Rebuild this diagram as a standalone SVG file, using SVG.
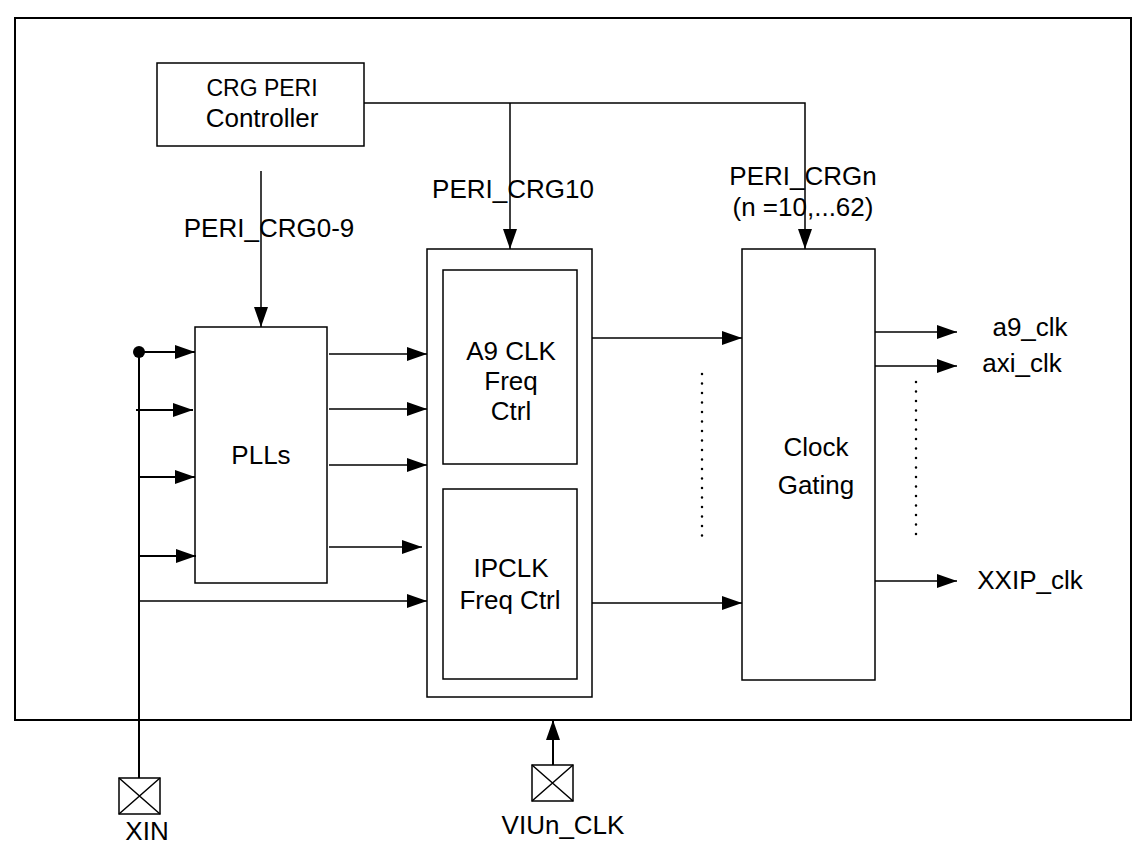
<svg xmlns="http://www.w3.org/2000/svg" width="1146" height="849" viewBox="0 0 1146 849">
<style>
.box{fill:#fff;stroke:#000;stroke-width:1.5}
.frame{fill:#fff;stroke:#000;stroke-width:2}
.ln{fill:none;stroke:#000;stroke-width:1.5}
.t{font-family:"Liberation Sans",Arial,sans-serif;font-size:26px;fill:#000;text-anchor:middle}
.dot{fill:none;stroke:#000;stroke-width:2.5;stroke-dasharray:0 9.5;stroke-linecap:round}
</style>
<defs>
<marker id="ah" markerWidth="20" markerHeight="14" refX="20" refY="7" orient="auto" markerUnits="userSpaceOnUse">
<path d="M0,0 L20,7 L0,14 Z" fill="#000"/>
</marker>
</defs>
<rect class="frame" x="15" y="18" width="1116" height="702"/>
<g id="controller">
<rect class="box" x="157" y="63" width="207" height="83"/>
<text class="t" x="262" y="96" style="font-size:23px">CRG PERI</text>
<text class="t" x="262" y="127">Controller</text>
</g>
<g id="plls">
<rect class="box" x="195" y="327" width="132" height="256"/>
<text class="t" x="261" y="464">PLLs</text>
</g>
<g id="freqctrl">
<rect class="box" x="427" y="249" width="165" height="448"/>
<rect class="box" x="443" y="270" width="134" height="194"/>
<text class="t" x="511" y="360">A9 CLK</text>
<text class="t" x="511" y="390">Freq</text>
<text class="t" x="511" y="420">Ctrl</text>
<rect class="box" x="443" y="489" width="134" height="190"/>
<text class="t" x="511" y="577">IPCLK</text>
<text class="t" x="510" y="609">Freq Ctrl</text>
</g>
<g id="clockgating">
<rect class="box" x="742" y="249" width="133" height="431"/>
<text class="t" x="816" y="456">Clock</text>
<text class="t" x="816" y="494">Gating</text>
</g>
<g id="xin">
<rect class="box" x="119" y="778" width="41" height="36"/>
<path class="ln" d="M119,778 L160,814 M160,778 L119,814"/>
<text class="t" x="147" y="840">XIN</text>
</g>
<g id="viun">
<rect class="box" x="532" y="765" width="41" height="36"/>
<path class="ln" d="M532,765 L573,801 M573,765 L532,801"/>
<text class="t" x="563" y="834">VIUn_CLK</text>
</g>
<g id="connectors">
<path class="ln" d="M364,103 H805 V249" marker-end="url(#ah)"/>
<path class="ln" d="M510,103 V249" marker-end="url(#ah)"/>
<path class="ln" d="M261,171 V327" marker-end="url(#ah)"/>
<path class="ln" d="M139,352 V778" style="stroke-width:2"/>
<circle cx="139" cy="352" r="6" fill="#000"/>
<path class="ln" d="M139,352 H195" marker-end="url(#ah)" style="stroke-width:2"/>
<path class="ln" d="M136,410 H193" marker-end="url(#ah)" style="stroke-width:2"/>
<path class="ln" d="M139,477 H195" marker-end="url(#ah)" style="stroke-width:2"/>
<path class="ln" d="M140,556 H196" marker-end="url(#ah)" style="stroke-width:2"/>
<path class="ln" d="M139,601 H427" marker-end="url(#ah)"/>
<path class="ln" d="M329,354 H427" marker-end="url(#ah)"/>
<path class="ln" d="M329,409 H427" marker-end="url(#ah)"/>
<path class="ln" d="M329,465 H427" marker-end="url(#ah)"/>
<path class="ln" d="M329,547 H422" marker-end="url(#ah)"/>
<path class="ln" d="M592,338 H742" marker-end="url(#ah)"/>
<path class="ln" d="M592,603 H742" marker-end="url(#ah)"/>
<path class="ln" d="M875,332 H957" marker-end="url(#ah)"/>
<path class="ln" d="M875,366 H957" marker-end="url(#ah)"/>
<path class="ln" d="M875,581 H957" marker-end="url(#ah)"/>
<path class="ln" d="M553,765 V720" marker-end="url(#ah)" style="stroke-width:2"/>
<path class="dot" d="M702,374 V540"/>
<path class="dot" d="M916,382 V537"/>
</g>
<g id="labels">
<text class="t" x="269" y="237">PERI_CRG0-9</text>
<text class="t" x="513" y="198">PERI_CRG10</text>
<text class="t" x="803" y="185">PERI_CRGn</text>
<text class="t" x="803" y="216">(n =10,...62)</text>
<text class="t" x="1030" y="336">a9_clk</text>
<text class="t" x="1022" y="372">axi_clk</text>
<text class="t" x="1030" y="589">XXIP_clk</text>
</g>
</svg>
